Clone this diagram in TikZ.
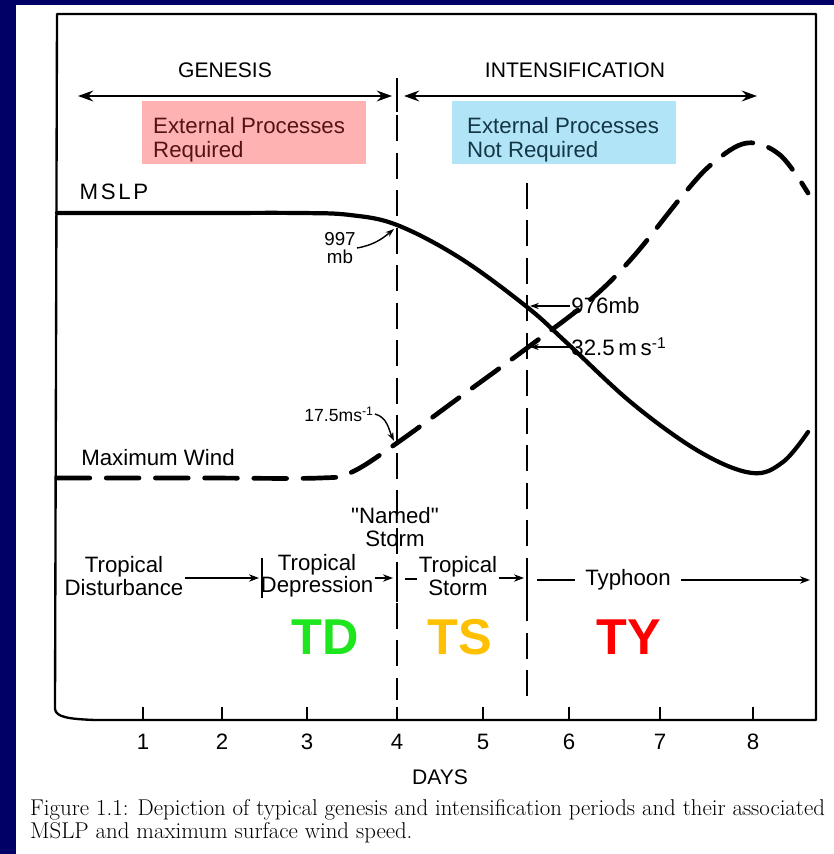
\documentclass[tikz,border=0pt]{standalone}
\usepackage{fontspec}
\setsansfont{Liberation Sans}
\usepackage{tikz}
\usetikzlibrary{arrows.meta, positioning, calc}
\definecolor{navyframe}{RGB}{0,0,102}
\definecolor{pinkbox}{RGB}{255,178,178}
\definecolor{bluebox}{RGB}{178,228,248}
\definecolor{redtxt}{RGB}{85,20,20}
\definecolor{tealtxt}{RGB}{20,55,70}
\definecolor{tdgreen}{RGB}{30,230,30}
\definecolor{tsorange}{RGB}{255,192,0}
\definecolor{tyred}{RGB}{255,0,0}
\newcommand{\lettering}{\sffamily\fontsize{19}{19}\selectfont}
\tikzset{
  frm/.style  ={line width=2pt, line join=round},
  mslp/.style ={line width=3.6pt, line cap=round},
  wind/.style ={line width=4pt, line cap=round, dash pattern=on 28pt off 14pt},
  divl/.style ={line width=2.2pt, dash pattern=on 22pt off 10pt},
  stbar/.style={line width=2.4pt},
  per/.style  ={{Stealth[length=4.5mm, width=3.2mm]}-{Stealth[length=4.5mm, width=3.2mm]}, line width=2.2pt},
  stg/.style  ={-{Stealth[length=3mm, width=2.2mm]}, line width=1.6pt},
  ptr/.style  ={-{Stealth[length=2.6mm, width=1.8mm]}, line width=1.2pt},
  lab/.style  ={font=\lettering, inner sep=1pt},
  head/.style ={font=\sffamily\fontsize{18}{18}\selectfont, inner sep=1pt},
  boxtxt/.style={font=\sffamily\fontsize{19}{20.5}\selectfont, align=left, anchor=north west, inner sep=0pt},
  big/.style  ={font=\sffamily\bfseries\fontsize{43}{43}\selectfont},
  capt/.style ={font=\fontsize{19.5}{20}\selectfont, anchor=base west, inner sep=0pt},
}
\begin{document}
\begin{tikzpicture}[x=0.3mm, y=-0.3mm]
  \useasboundingbox (0,0) rectangle (834,854);
  \fill[navyframe] (0,0) rectangle (16,854);
  \fill[navyframe] (0,0) rectangle (834,5);
  % plot frame
  \draw[frm] (57,14) -- (816,14) -- (816,720) -- (95,720)
    .. controls (68,719) and (56,717) .. (55,709) -- cycle;

  % periods
  \node[head] (gen) at (225,70) {GENESIS};
  \node[head] (int) at (575,70) {INTENSIFICATION};
  \coordinate (g0) at (78,96);  \coordinate (g1) at (392,96);
  \coordinate (i0) at (404,96); \coordinate (i1) at (757,96);
  \draw[per] (g0) -- (g1);
  \draw[per] (i0) -- (i1);
  \fill[pinkbox] (142,101) rectangle (366,164);
  \fill[bluebox] (452,101) rectangle (676,164);
  \node[boxtxt, text=redtxt] (extR) at (153,117) {External Processes\\Required};
  \node[boxtxt, text=tealtxt] (extB) at (467,117) {External Processes\\Not Required};

  % dividers at day 4 and day 5.5
  \coordinate (d4top) at (397,78);   \coordinate (d4bot) at (397,700);
  \coordinate (d55top) at (527,183); \coordinate (d55bot) at (527,700);
  \draw[divl] (d4top) -- (d4bot);
  \draw[divl] (d55top) -- (d55bot);
  \draw[stbar] (397,78) -- (397,112);
  \draw[stbar] (262,558) -- (262,598);
  \draw[stbar] (397,562) -- (397,602);
  \draw[stbar] (527,558) -- (527,598);

  % MSLP and maximum wind
  \draw[mslp] plot[smooth, tension=0.6] coordinates {(57,213) (200,213) (300,213) (350,215)
    (397,225) (460,258) (527,307) (567,343) (633,404) (700,452) (752,473) (783,462) (808,432)};
  \draw[wind] plot[smooth, tension=0.6] coordinates {(57,478) (200,478) (320,478) (352,472)
    (397,443) (460,397) (527,348) (590,300) (633,257) (683,195) (713,163) (747,143) (780,155) (808,193)};
  \node[lab] (mslpL) at (114,192) {\addfontfeature{LetterSpace=12}MSLP};
  \node[lab] (windL) at (158,458) {Maximum Wind};

  % values at the crossings
  \node[lab, align=center, font=\sffamily\fontsize{16}{16}\selectfont] (n997) at (340,248) {997\\mb};
  \coordinate (p997) at (394,229);
  \draw[ptr] (n997.east) to[out=10, in=-140] (p997);
  \node[lab, anchor=west] (n976) at (570,306) {976mb};
  \coordinate (p976) at (530,306);
  \draw[ptr] (n976.west) -- (p976);
  \node[lab, anchor=west] (n325) at (570,347) {32.5\,m\,s\textsuperscript{-1}};
  \coordinate (p325) at (530,347);
  \draw[ptr] (n325.west) -- (p325);
  \node[lab, font=\sffamily\fontsize{15}{15}\selectfont] (n175) at (339,414) {17.5ms\textsuperscript{-1}};
  \coordinate (p175) at (394,441);
  \draw[ptr] (n175.east) to[out=-15, in=115] (p175);
  \node[lab, align=center] (named) at (395,527) {\textquotedbl Named\textquotedbl\\Storm};

  % stages
  \node[lab, align=center] (dist) at (124,576) {Tropical\\Disturbance};
  \node[lab, align=center] (dep) at (317,576) {Tropical\\Depression};
  \node[lab, align=center] (storm) at (458,576) {Tropical\\Storm};
  \node[lab, inner xsep=3mm] (typh) at (628,580) {Typhoon};
  \coordinate (b1) at (259,578); \coordinate (b2) at (393,578);
  \coordinate (b3) at (524,578); \coordinate (s0) at (405,579);
  \coordinate (ty0) at (537,580); \coordinate (ty1) at (810,580);
  \draw[stg] (dist.east |- b1) -- (b1);
  \draw[stg] (dep.east |- b2) -- (b2);
  \draw[line width=1.6pt] (s0) -- (storm.west |- s0);
  \draw[stg] (storm.east |- b3) -- (b3);
  \draw[line width=1.6pt] (ty0) -- (typh.west);
  \draw[stg] (typh.east) -- (ty1);
  \node[big, text=tdgreen] (td) at (325,637) {TD};
  \node[big, text=tsorange] (ts) at (460,637) {TS};
  \node[big, text=tyred] (ty) at (629,637) {TY};

  % day axis
  \foreach \x/\d in {143/1, 222/2, 307/3, 397/4, 483/5, 569/6, 660/7, 753/8} {
    \draw[line width=1.6pt] (\x,720) -- (\x,707);
    \node[lab] (t\d) at (\x,742) {\d};
  }
  \node[head] (days) at (440,777) {DAYS};

  \node[capt] (cap1) at (30,815) {Figure 1.1: Depiction of typical genesis and intensification periods and their associated};
  \node[capt] (cap2) at (30,838) {MSLP and maximum surface wind speed.};
\end{tikzpicture}
\end{document}
